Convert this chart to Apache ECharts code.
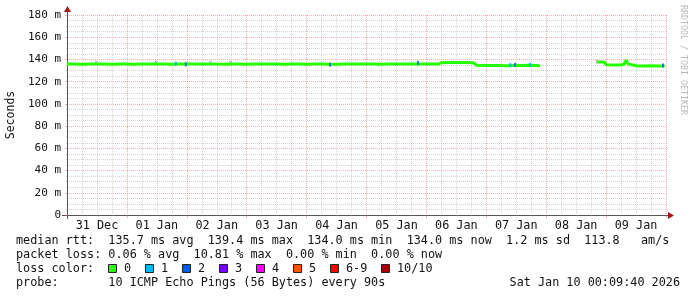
<!DOCTYPE html>
<html><head><meta charset="utf-8">
<script src="https://cdn.jsdelivr.net/npm/echarts@6/dist/echarts.min.js"></script>
<style>html,body{margin:0;padding:0;background:#fff}#c{width:697px;height:297px}</style>
</head><body><div id="c"></div>
<script>
// x axis: hours since 31 Dec 00:00; labels sit at noon of each day
const dayLabels = ['31 Dec','01 Jan','02 Jan','03 Jan','04 Jan','05 Jan','06 Jan','07 Jan','08 Jan','09 Jan'];
const yMax = 180;
// median RTT (ms), null = no data
const medianHours = [0,3,6,9,12,15,18,21,24,27,30,33,36,39,42,45,48,51,54,57,60,63,66,69,72,75,78,81,84,87,90,93,96,99,102,105,108,111,114,117,120,123,126,129,132,135,138,141,144,147,149,150,153,156,159,162,163,164,167,170,173,176,179,182,185,188,189.5,200,212.5,214,215.5,216,219,222,223.2,224,224.8,225.5,228,231,234,237,239.5];
const medianValues = [135.8,135.8,135.7,135.8,135.9,135.8,135.7,135.8,135.8,135.7,135.8,135.9,135.8,135.8,135.7,135.8,135.8,135.9,135.8,136.0,135.8,135.7,135.8,135.8,135.7,135.8,135.8,135.9,135.8,135.7,135.8,135.8,135.7,135.8,135.8,135.6,135.7,135.8,135.8,135.9,135.8,135.8,135.7,135.8,135.8,135.9,135.8,135.9,135.8,135.8,135.9,137.0,137.2,137.3,137.2,137.1,137.0,134.7,134.5,134.6,134.5,134.4,134.6,134.5,134.7,134.5,134.4,null,137.6,137.8,137.4,135.2,135.0,135.1,135.6,139.4,136.0,134.4,134.3,134.2,134.3,134.1,134.0];
// loss-coloured ticks on the median line
const lossHours  = [43.6,47.6,105.4,140.6,177.6,179.5,185.5,238.8];
const lossValues = [136.3,135.6,135.3,137.0,134.9,135.2,135.0,134.6];
const lossIndex  = [1,2,2,2,1,2,1,2];
// smoke ticks
const smokeHours  = [11.6,35.6,57.5,65.5,212.3];
const smokeValues = [137.0,137.4,137.0,137.2,138.0];
const lossColorNames = ['0','1','2','3','4','5','6-9','10/10'];
const lossColors = ['#26ff00','#00b8ff','#0059ff','#7e00ff','#ff00ff','#ff5500','#ff0000','#a10000'];
const statsLines = [
  'median rtt:  135.7 ms avg  139.4 ms max  134.0 ms min  134.0 ms now  1.2 ms sd  113.8   am/s',
  'packet loss: 0.06 % avg  10.81 % max  0.00 % min  0.00 % now',
  'loss color:',
  'probe:       10 ICMP Echo Pings (56 Bytes) every 90s'
];
const stampText = 'Sat Jan 10 00:09:40 2026';
const watermark = 'RRDTOOL / TOBI OETIKER';
const yTitle = 'Seconds';

const MONO = '"DejaVu Sans Mono", monospace';
const FS = 11.8;
const minorC = 'rgba(143,143,143,0.38)';
const majorC = 'rgba(222,80,80,0.45)';

const chart = echarts.init(document.getElementById('c'), null, {renderer:'canvas'});
const medianData = medianHours.map((h,i)=>[h, medianValues[i]]);
const lossData = lossHours.map((h,i)=>({value:[h, lossValues[i]], itemStyle:{color:lossColors[lossIndex[i]]}}));
const smokeData = smokeHours.map((h,i)=>[h, smokeValues[i]]);

const graphics = [];
const rowY = [241,255,269,283];
statsLines.forEach((t,i)=>{
  graphics.push({type:'text', x:16, y:rowY[i], style:{text:t, font:FS+'px '+MONO, fill:'#111', verticalAlign:'middle'}});
});
const sqX = [108,145,182,219,256,293,330,381];
lossColorNames.forEach((n,i)=>{
  graphics.push({type:'rect', shape:{x:sqX[i]+0.5, y:264.5, width:8, height:8}, style:{fill:lossColors[i], stroke:'#222', lineWidth:1}});
  graphics.push({type:'text', x:sqX[i]+16, y:269, style:{text:n, font:FS+'px '+MONO, fill:'#111', verticalAlign:'middle'}});
});
graphics.push({type:'text', x:680, y:283, style:{text:stampText, font:FS+'px '+MONO, fill:'#111', align:'right', verticalAlign:'middle'}});
graphics.push({type:'text', x:683, y:5, rotation:-Math.PI/2, style:{text:watermark, font:'8.3px '+MONO, fill:'#b8b8b8', align:'left', verticalAlign:'middle'}});

chart.setOption({
  animation:false,
  backgroundColor:'#fff',
  grid:{left:67, right:31, top:15, bottom:82, containLabel:false, outerBoundsMode:'none'},
  xAxis:[{
    type:'value', min:0, max:240, interval:24, position:'bottom',
    axisLine:{show:true, lineStyle:{color:'#555', width:1}},
    axisTick:{show:true, length:3, inside:false, lineStyle:{color:majorC}},
    minorTick:{show:true, splitNumber:4, length:1, lineStyle:{color:minorC}},
    axisLabel:{show:false},
    splitLine:{show:true, lineStyle:{color:majorC, type:[1,1], width:1}},
    minorSplitLine:{show:true, lineStyle:{color:minorC, type:[1,1], width:1}}
  },{
    type:'value', min:0, max:240, interval:12, position:'bottom',
    axisLine:{show:false}, axisTick:{show:false}, splitLine:{show:false},
    axisLabel:{show:true, margin:5, fontFamily:MONO, fontSize:FS, color:'#111',
      showMinLabel:true, showMaxLabel:true, hideOverlap:false,
      formatter:v=>{ if (v%24===12) return dayLabels[(v-12)/24]||''; return ''; }}
  }],
  yAxis:{
    type:'value', min:0, max:yMax, interval:20,
    name:yTitle, nameLocation:'middle', nameGap:49, nameRotate:90,
    nameTextStyle:{fontFamily:MONO, fontSize:11.5, color:'#111'},
    axisLine:{show:true, lineStyle:{color:'#555', width:1}},
    axisTick:{show:true, length:2, lineStyle:{color:majorC}},
    minorTick:{show:true, splitNumber:4, length:1, lineStyle:{color:minorC}},
    axisLabel:{margin:6, fontFamily:MONO, fontSize:11, color:'#111',
      formatter:v=> v===0 ? '0' : (v+' m')},
    splitLine:{show:true, lineStyle:{color:majorC, type:[1,1], width:1}},
    minorSplitLine:{show:true, lineStyle:{color:minorC, type:[1,1], width:1}}
  },
  series:[
    {type:'scatter', xAxisIndex:0, data:smokeData, symbol:'rect', symbolSize:[2,4], itemStyle:{color:'#aaaaaa'}, z:3, silent:true},
    {type:'line', xAxisIndex:0, data:medianData, showSymbol:false, connectNulls:false,
      lineStyle:{color:lossColors[0], width:3}, z:4, silent:true},
    {type:'scatter', xAxisIndex:0, data:lossData, symbol:'rect', symbolSize:[2,4], z:5, silent:true}
  ],
  graphic:graphics
});

// axis arrows and extensions (decoration)
const p0 = chart.convertToPixel({gridIndex:0},[0,0]);
const pX = chart.convertToPixel({gridIndex:0},[240,0]);
const pY = chart.convertToPixel({gridIndex:0},[0,yMax]);
const ar = '#a01818';
graphics.push({type:'line', shape:{x1:p0[0]-5, y1:Math.round(p0[1])+0.5, x2:pX[0]+3, y2:Math.round(p0[1])+0.5}, style:{stroke:'#555', lineWidth:1}});
graphics.push({type:'line', shape:{x1:Math.round(p0[0])+0.5, y1:p0[1]+4, x2:Math.round(p0[0])+0.5, y2:pY[1]-4}, style:{stroke:'#555', lineWidth:1}});
graphics.push({type:'polygon', shape:{points:[[pX[0]+2,p0[1]-3],[pX[0]+8,p0[1]+0.5],[pX[0]+2,p0[1]+4]]}, style:{fill:ar}});
graphics.push({type:'polygon', shape:{points:[[p0[0]-3,pY[1]-3],[p0[0]+0.5,pY[1]-9],[p0[0]+4,pY[1]-3]]}, style:{fill:ar}});
chart.setOption({graphic:graphics});
</script></body></html>
